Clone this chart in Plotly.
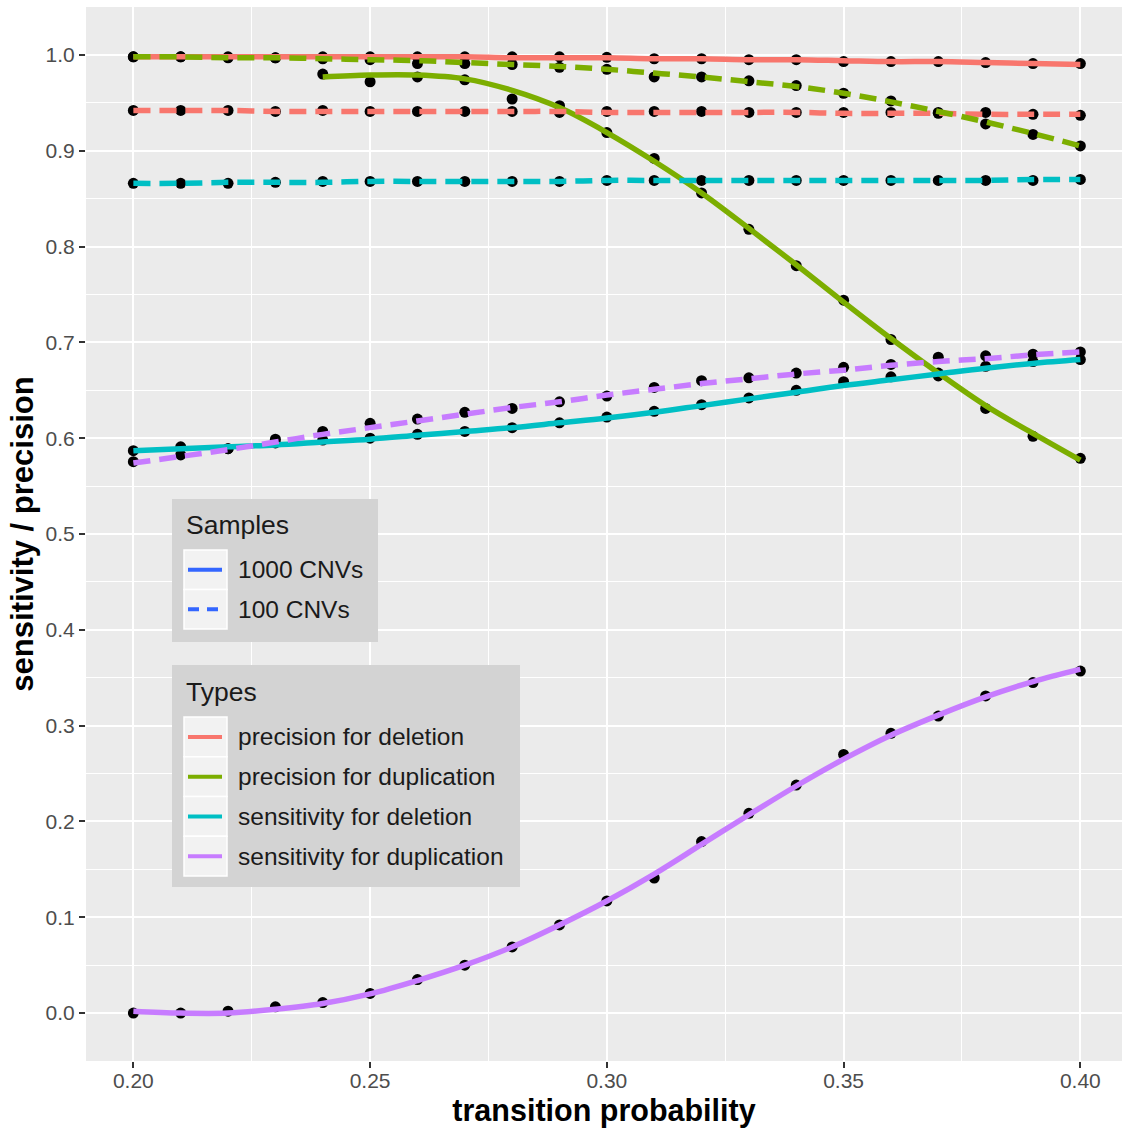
import plotly.graph_objects as go

# ---------------- data ----------------
x_vals = [0.20, 0.21, 0.22, 0.23, 0.24, 0.25, 0.26, 0.27, 0.28, 0.29, 0.30,
          0.31, 0.32, 0.33, 0.34, 0.35, 0.36, 0.37, 0.38, 0.39, 0.40]

# observed points (1000 CNVs)
prec_del_1000 = [0.998, 0.998, 0.998, 0.997, 0.998, 0.998, 0.998, 0.998, 0.998, 0.998, 0.9975,
                 0.996, 0.996, 0.995, 0.995, 0.993, 0.993, 0.993, 0.992, 0.991, 0.991]
prec_dup_1000 = [None, None, None, None, 0.980, 0.972, 0.977, 0.974, 0.954, 0.947, 0.919,
                 0.892, 0.856, 0.818, 0.780, 0.744, 0.703, 0.665, 0.631, 0.602, 0.579]
sens_del_1000 = [0.587, 0.591, 0.589, 0.595, 0.598, 0.600, 0.604, 0.607, 0.611, 0.616, 0.622,
                 0.628, 0.635, 0.642, 0.650, 0.659, 0.664, 0.668, 0.675, 0.680, 0.682]
sens_dup_1000 = [0.000, 0.000, 0.002, 0.0066, 0.011, 0.0205, 0.035, 0.050, 0.069, 0.092, 0.117,
                 0.141, 0.179, 0.2085, 0.238, 0.270, 0.292, 0.310, 0.331, 0.345, 0.357]

# observed points (100 CNVs)
prec_del_100 = [0.942, 0.942, 0.942, 0.941, 0.942, 0.941, 0.941, 0.941, 0.941, 0.940, 0.941,
                0.941, 0.941, 0.940, 0.940, 0.940, 0.940, 0.939, 0.940, 0.938, 0.937]
prec_dup_100 = [0.998, 0.998, 0.997, 0.997, 0.996, 0.995, 0.991, 0.991, 0.990, 0.987, 0.985,
                0.977, 0.977, 0.973, 0.968, 0.960, 0.952, 0.940, 0.928, 0.917, 0.905]
sens_del_100 = [0.866, 0.866, 0.866, 0.867, 0.868, 0.868, 0.868, 0.868, 0.868, 0.868, 0.869,
                0.869, 0.869, 0.869, 0.869, 0.869, 0.869, 0.869, 0.869, 0.869, 0.870]
sens_dup_100 = [0.5755, 0.5825, 0.589, 0.599, 0.607, 0.6155, 0.620, 0.627, 0.631, 0.638, 0.644,
                0.653, 0.660, 0.663, 0.668, 0.674, 0.677, 0.6845, 0.686, 0.6876, 0.690]

# smoothed curves
fit_prec_del_1000 = [0.998, 0.998, 0.998, 0.998, 0.998, 0.998, 0.998, 0.998, 0.997, 0.997, 0.997,
                     0.996, 0.996, 0.995, 0.995, 0.994, 0.993, 0.993, 0.992, 0.991, 0.990]
fit_prec_dup_1000 = [None, None, None, None, 0.977, 0.979, 0.979, 0.975, 0.963, 0.945, 0.919,
                     0.889, 0.856, 0.819, 0.781, 0.742, 0.704, 0.668, 0.634, 0.605, 0.577]
fit_sens_del_1000 = [0.587, 0.589, 0.591, 0.593, 0.596, 0.599, 0.603, 0.607, 0.611, 0.616, 0.621,
                     0.627, 0.634, 0.641, 0.648, 0.655, 0.661, 0.667, 0.673, 0.678, 0.682]
fit_sens_dup_1000 = [0.002, 0.000, 0.000, 0.004, 0.010, 0.020, 0.034, 0.050, 0.069, 0.092, 0.117,
                     0.145, 0.176, 0.207, 0.237, 0.265, 0.290, 0.311, 0.330, 0.346, 0.359]
fit_prec_del_100 = [0.942, 0.942, 0.942, 0.941, 0.941, 0.941, 0.941, 0.941, 0.941, 0.941, 0.940,
                    0.940, 0.940, 0.940, 0.940, 0.939, 0.939, 0.939, 0.938, 0.938, 0.938]
fit_prec_dup_100 = [0.998, 0.998, 0.997, 0.997, 0.996, 0.995, 0.994, 0.992, 0.990, 0.988, 0.985,
                    0.981, 0.977, 0.972, 0.967, 0.960, 0.951, 0.941, 0.930, 0.918, 0.905]
fit_sens_del_100 = [0.866, 0.866, 0.867, 0.867, 0.867, 0.868, 0.868, 0.868, 0.868, 0.868, 0.869,
                    0.869, 0.869, 0.869, 0.869, 0.869, 0.869, 0.869, 0.869, 0.870, 0.870]
fit_sens_dup_100 = [0.574, 0.581, 0.588, 0.596, 0.604, 0.611, 0.618, 0.625, 0.632, 0.638, 0.645,
                    0.651, 0.657, 0.662, 0.667, 0.671, 0.676, 0.680, 0.683, 0.687, 0.690]

type_names = ["precision for deletion", "precision for duplication",
              "sensitivity for deletion", "sensitivity for duplication"]
sample_names = ["1000 CNVs", "100 CNVs"]
x_ticks = [0.20, 0.25, 0.30, 0.35, 0.40]
y_ticks = [0.0, 0.1, 0.2, 0.3, 0.4, 0.5, 0.6, 0.7, 0.8, 0.9, 1.0]

# ---------------- style ----------------
type_colors = ["#F8766D", "#7CAE00", "#00BFC4", "#C77CFF"]
sample_color = "#3366FF"
FONT = "Liberation Sans, Arial, sans-serif"

W, H = 1122, 1128
ML, MR, MT, MB = 86, 0, 7, 67
PW, PH = W - ML - MR, H - MT - MB


def px(xp):
    return (xp - ML) / PW


def py(yp):
    return (H - MB - yp) / PH


fig = go.Figure()

DASH = "17px,9px"
series = [
    (prec_del_1000, fit_prec_del_1000, 0, "solid", 0),
    (prec_dup_1000, fit_prec_dup_1000, 1, "solid", 0),
    (sens_del_1000, fit_sens_del_1000, 2, "solid", 0),
    (sens_dup_1000, fit_sens_dup_1000, 3, "solid", 0),
    (prec_del_100, fit_prec_del_100, 0, DASH, 1),
    (prec_dup_100, fit_prec_dup_100, 1, DASH, 1),
    (sens_del_100, fit_sens_del_100, 2, DASH, 1),
    (sens_dup_100, fit_sens_dup_100, 3, DASH, 1),
]

# points first
for pts, fit, ti, dash, si in series:
    fig.add_trace(go.Scatter(
        x=x_vals, y=pts, mode="markers",
        marker=dict(color="black", size=11),
        name=f"{type_names[ti]} ({sample_names[si]})", showlegend=False,
        hoverinfo="x+y+name"))

# smoothed lines on top
for pts, fit, ti, dash, si in series:
    fig.add_trace(go.Scatter(
        x=x_vals, y=fit, mode="lines",
        line=dict(color=type_colors[ti], width=5.5, dash=dash, shape="spline", smoothing=1.0),
        name=f"{type_names[ti]} ({sample_names[si]})", showlegend=False,
        connectgaps=False))

# ---------------- manual ggplot-style legends ----------------
shapes = []
annotations = []
LEG_BG = "#D3D3D3"
KEY_BG = "#F2F2F2"


def legend_box(x0, x1, y0, y1, title, title_y, labels, row_tops, row_h, line_colors, dashes):
    shapes.append(dict(type="rect", xref="paper", yref="paper",
                       x0=px(x0), x1=px(x1), y0=py(y1), y1=py(y0),
                       fillcolor=LEG_BG, line=dict(width=0), layer="above"))
    annotations.append(dict(xref="paper", yref="paper", x=px(184), y=py(title_y),
                            xanchor="left", yanchor="middle", text=title, showarrow=False,
                            font=dict(family=FONT, size=26.5, color="#1A1A1A")))
    for i, lab in enumerate(labels):
        top = row_tops + i * row_h
        shapes.append(dict(type="rect", xref="paper", yref="paper",
                           x0=px(184), x1=px(227), y0=py(top + row_h), y1=py(top),
                           fillcolor=KEY_BG, line=dict(color="white", width=1.5), layer="above"))
        cy = top + row_h / 2
        shapes.append(dict(type="line", xref="paper", yref="paper",
                           x0=px(188), x1=px(222), y0=py(cy), y1=py(cy),
                           line=dict(color=line_colors[i], width=4, dash=dashes[i]), layer="above"))
        annotations.append(dict(xref="paper", yref="paper", x=px(236), y=py(cy),
                                xanchor="left", yanchor="middle", text=lab, showarrow=False,
                                font=dict(family=FONT, size=24.5, color="#1A1A1A")))


legend_box(172, 378, 499, 642, "Samples", 525, sample_names, 550, 39.5,
           [sample_color, sample_color], ["solid", "11px,8px"])
legend_box(172, 520, 665, 887, "Types", 692, type_names, 717, 39.75,
           type_colors, ["solid"] * 4)

fig.update_layout(
    width=W, height=H,
    margin=dict(l=ML, r=MR, t=MT, b=MB),
    paper_bgcolor="white", plot_bgcolor="#EBEBEB",
    font=dict(family=FONT, color="#4D4D4D"),
    shapes=shapes, annotations=annotations,
    showlegend=False,
    xaxis=dict(
        range=[0.19, 0.19 + 0.01 * PW / 47.35],
        tickvals=x_ticks, ticktext=[f"{v:.2f}" for v in x_ticks],
        showgrid=True, gridcolor="white", gridwidth=2.2,
        minor=dict(tickvals=[0.225, 0.275, 0.325, 0.375], showgrid=True,
                   gridcolor="white", gridwidth=1.1),
        zeroline=False, showline=False,
        ticks="outside", ticklen=6, tickwidth=2, tickcolor="#333333",
        ticklabelstandoff=-5,
        tickfont=dict(family=FONT, size=21, color="#4D4D4D"),
        title=dict(text="transition probability", standoff=11,
                   font=dict(family=FONT, size=30.5, color="black", weight="bold")),
        automargin=False,
    ),
    yaxis=dict(
        range=[-0.05, 1.05],
        tickvals=y_ticks, ticktext=[f"{v:.1f}" for v in y_ticks],
        showgrid=True, gridcolor="white", gridwidth=2.2,
        minor=dict(tickvals=[0.05, 0.15, 0.25, 0.35, 0.45, 0.55, 0.65, 0.75, 0.85, 0.95],
                   showgrid=True, gridcolor="white", gridwidth=1.1),
        zeroline=False, showline=False,
        ticks="outside", ticklen=6, tickwidth=2, tickcolor="#333333",
        tickfont=dict(family=FONT, size=21, color="#4D4D4D"),
        title=dict(text="sensitivity / precision", standoff=2,
                   font=dict(family=FONT, size=31, color="black", weight="bold")),
        automargin=False,
    ),
)

fig.write_html("out.html")
